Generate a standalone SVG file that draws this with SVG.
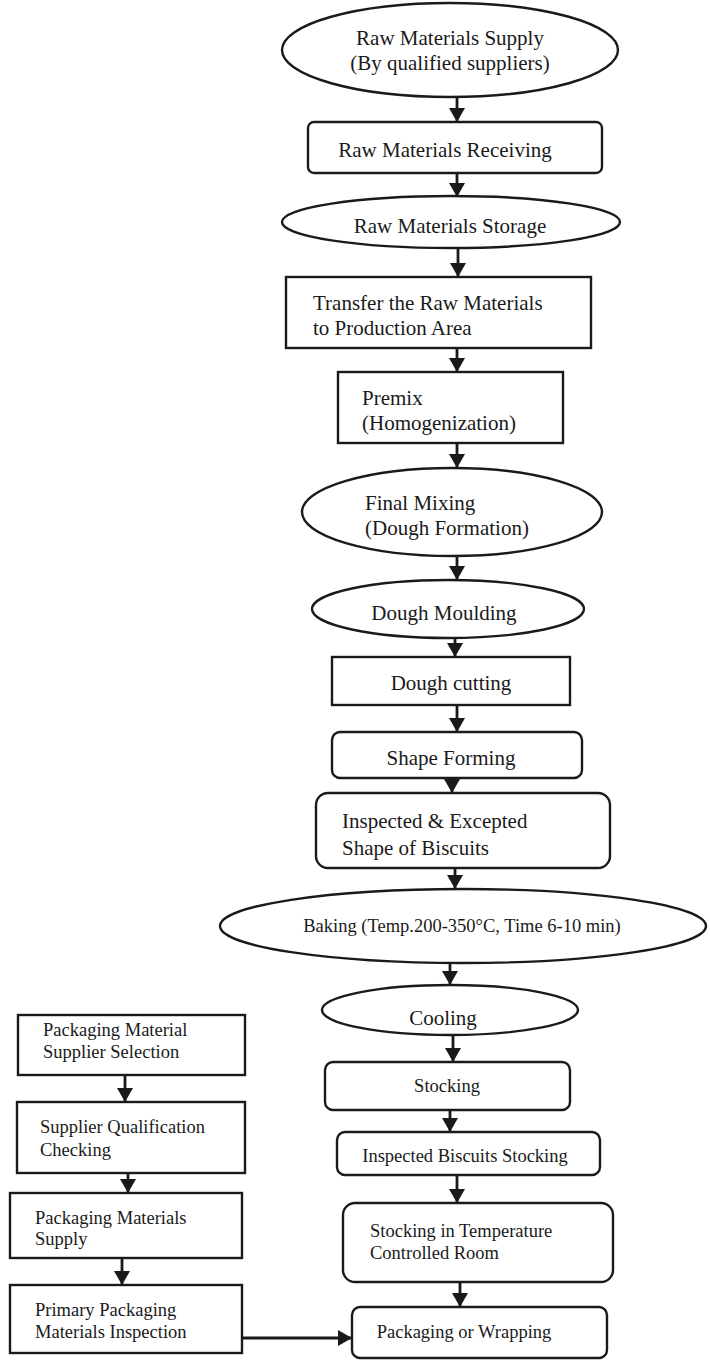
<svg xmlns="http://www.w3.org/2000/svg" width="710" height="1360" viewBox="0 0 710 1360">
<defs>
<style>
.s{fill:#fff;stroke:#1a1a1a;stroke-width:2.4}
.t{font-family:"Liberation Serif","Times New Roman",serif;font-size:21px;fill:#1a1a1a}
.m{text-anchor:middle}
.b{font-size:18.5px}
.c{stroke:#1a1a1a;stroke-width:2.8;fill:none;marker-end:url(#ah)}
</style>
<marker id="ah" viewBox="0 0 14 16" refX="14" refY="8" markerWidth="14" markerHeight="16" markerUnits="userSpaceOnUse" orient="auto">
<path d="M0,0 L14,8 L0,16 z" fill="#1a1a1a"/>
</marker>
</defs>
<rect width="710" height="1360" fill="#fff"/>
<g id="connectors">
<line class="c" x1="457" y1="97" x2="457" y2="122"/>
<line class="c" x1="457" y1="173" x2="457" y2="197"/>
<line class="c" x1="458" y1="248" x2="458" y2="277"/>
<line class="c" x1="457" y1="348" x2="457" y2="372"/>
<line class="c" x1="457" y1="443" x2="457" y2="468"/>
<line class="c" x1="457" y1="557" x2="457" y2="580"/>
<line class="c" x1="455" y1="638" x2="455" y2="657"/>
<line class="c" x1="457" y1="705" x2="457" y2="732"/>
<line class="c" x1="452" y1="778" x2="452" y2="793"/>
<line class="c" x1="455" y1="868" x2="455" y2="889"/>
<line class="c" x1="450" y1="963" x2="450" y2="985"/>
<line class="c" x1="453" y1="1035" x2="453" y2="1062"/>
<line class="c" x1="450" y1="1110" x2="450" y2="1132"/>
<line class="c" x1="457" y1="1175" x2="457" y2="1203"/>
<line class="c" x1="460" y1="1282" x2="460" y2="1307"/>
<line class="c" x1="125" y1="1075" x2="125" y2="1102"/>
<line class="c" x1="128" y1="1173" x2="128" y2="1193"/>
<line class="c" x1="122" y1="1258" x2="122" y2="1285"/>
<line class="c" x1="242" y1="1338" x2="352" y2="1338"/>
</g>
<g id="n1"><ellipse class="s" cx="450" cy="50" rx="168" ry="47"/>
<text class="t m" x="450" y="45">Raw Materials Supply</text>
<text class="t m" x="450" y="70">(By qualified suppliers)</text></g>
<g id="n2"><rect class="s" x="308" y="122" width="294" height="51" rx="6"/>
<text class="t m" x="445" y="157">Raw Materials Receiving</text></g>
<g id="n3"><ellipse class="s" cx="451" cy="222" rx="169" ry="26"/>
<text class="t m" x="450" y="233">Raw Materials Storage</text></g>
<g id="n4"><rect class="s" x="286" y="277" width="305" height="71"/>
<text class="t" x="313" y="310">Transfer the Raw Materials</text>
<text class="t" x="313" y="335">to Production Area</text></g>
<g id="n5"><rect class="s" x="338" y="372" width="225" height="71"/>
<text class="t" x="362" y="405">Premix</text>
<text class="t" x="362" y="430">(Homogenization)</text></g>
<g id="n6"><ellipse class="s" cx="452" cy="512" rx="150" ry="44"/>
<text class="t" x="365" y="510">Final Mixing</text>
<text class="t" x="365" y="535">(Dough Formation)</text></g>
<g id="n7"><ellipse class="s" cx="448" cy="609" rx="136" ry="29"/>
<text class="t m" x="444" y="620">Dough Moulding</text></g>
<g id="n8"><rect class="s" x="332" y="657" width="238" height="48"/>
<text class="t m" x="451" y="690">Dough cutting</text></g>
<g id="n9"><rect class="s" x="332" y="732" width="250" height="46" rx="8"/>
<text class="t m" x="451" y="765">Shape Forming</text></g>
<g id="n10"><rect class="s" x="316" y="793" width="294" height="75" rx="12"/>
<text class="t" x="342" y="828">Inspected &amp; Excepted</text>
<text class="t" x="342" y="855">Shape of Biscuits</text></g>
<g id="n11"><ellipse class="s" cx="463" cy="926" rx="243" ry="37"/>
<text class="t m b" x="462" y="932">Baking (Temp.200-350°C, Time 6-10 min)</text></g>
<g id="n12"><ellipse class="s" cx="450" cy="1010" rx="128" ry="25"/>
<text class="t m" x="443" y="1025">Cooling</text></g>
<g id="n13"><rect class="s" x="325" y="1062" width="245" height="48" rx="8"/>
<text class="t m b" x="447" y="1092">Stocking</text></g>
<g id="n14"><rect class="s" x="337" y="1132" width="263" height="43" rx="8"/>
<text class="t m b" x="465" y="1162">Inspected Biscuits Stocking</text></g>
<g id="n15"><rect class="s" x="343" y="1203" width="270" height="79" rx="12"/>
<text class="t b" x="370" y="1237">Stocking in Temperature</text>
<text class="t b" x="370" y="1259">Controlled Room</text></g>
<g id="n16"><rect class="s" x="352" y="1307" width="255" height="51" rx="8"/>
<text class="t m b" x="464" y="1338">Packaging or Wrapping</text></g>
<g id="l1"><rect class="s" x="18" y="1015" width="227" height="60"/>
<text class="t b" x="43" y="1036">Packaging Material</text>
<text class="t b" x="43" y="1058">Supplier Selection</text></g>
<g id="l2"><rect class="s" x="17" y="1102" width="228" height="71"/>
<text class="t b" x="40" y="1133">Supplier Qualification</text>
<text class="t b" x="40" y="1156">Checking</text></g>
<g id="l3"><rect class="s" x="10" y="1193" width="232" height="65"/>
<text class="t b" x="35" y="1224">Packaging Materials</text>
<text class="t b" x="35" y="1245">Supply</text></g>
<g id="l4"><rect class="s" x="10" y="1285" width="232" height="68"/>
<text class="t b" x="35" y="1316">Primary Packaging</text>
<text class="t b" x="35" y="1338">Materials Inspection</text></g>
</svg>
